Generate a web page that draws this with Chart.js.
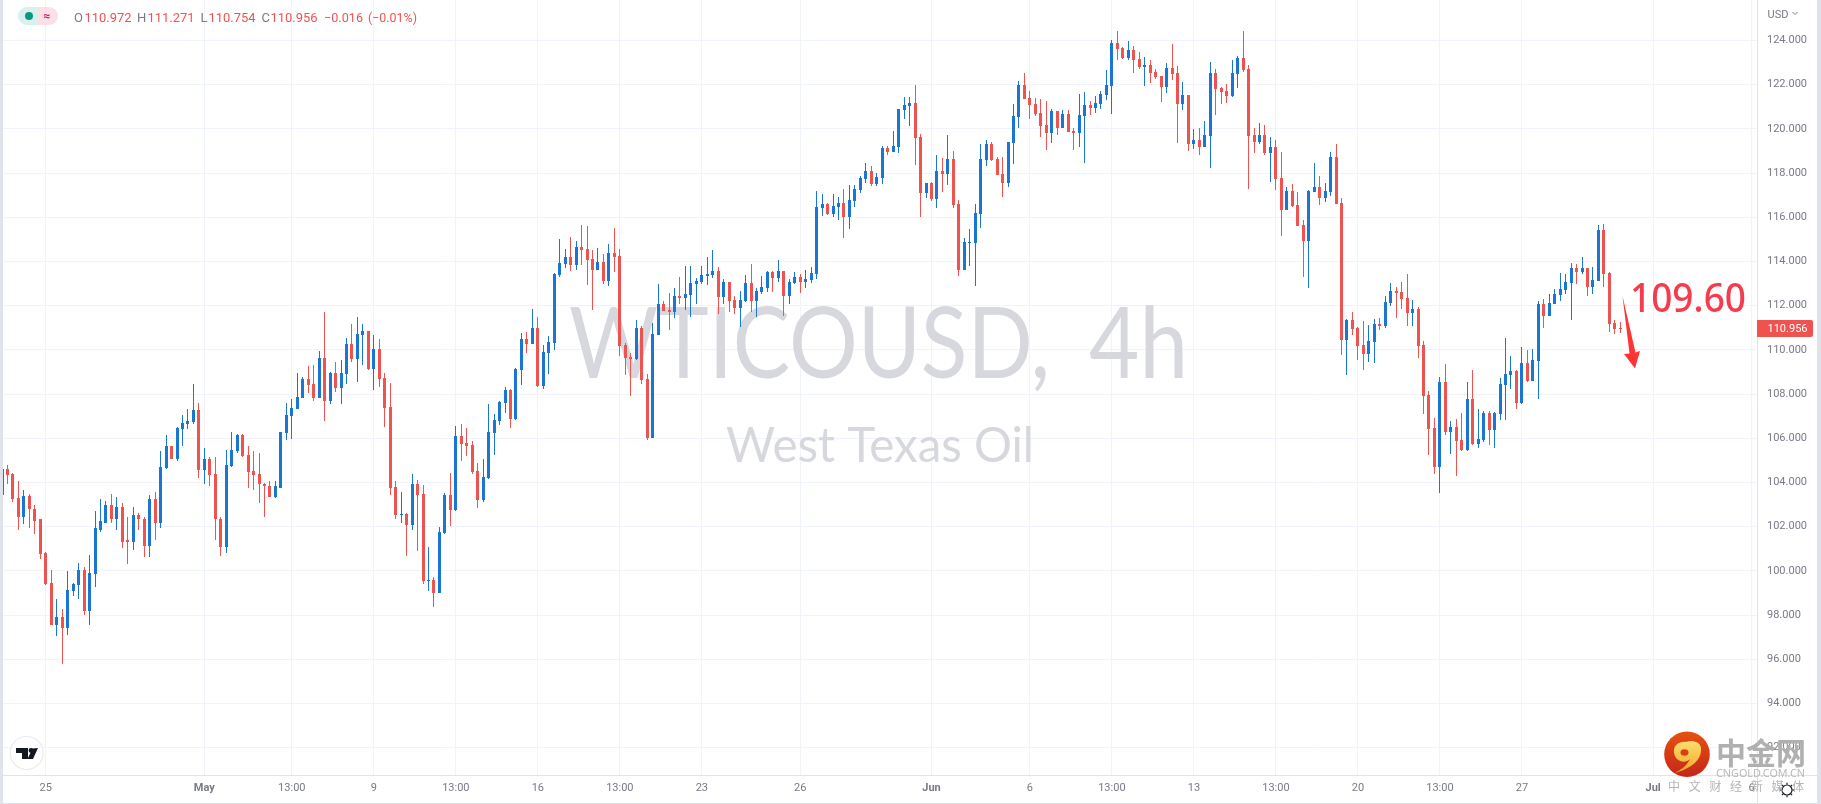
<!DOCTYPE html>
<html><head><meta charset="utf-8">
<script src="https://cdn.jsdelivr.net/npm/chart.js@4"></script>
<style>html,body{margin:0;padding:0;background:#fff;overflow:hidden}canvas{display:block}</style>
</head><body><canvas id="c" width="1821" height="804"></canvas>
<script>
const opens=[103.45,104.63,104.40,103.32,102.46,103.41,102.82,102.33,100.79,99.44,97.54,97.90,97.40,99.08,99.35,100.02,98.17,99.84,101.87,102.19,103.00,102.33,102.91,101.38,101.33,102.55,102.37,101.11,103.27,102.15,104.67,105.67,105.08,106.43,106.66,106.75,107.29,104.58,105.08,104.40,102.37,101.06,104.76,105.44,106.16,105.26,104.54,104.40,103.95,103.86,103.36,103.77,106.25,107.02,107.34,
107.82,108.67,108.45,107.82,109.62,107.68,108.94,108.27,108.90,110.25,109.58,110.66,110.84,109.12,110.03,108.72,107.41,103.80,102.53,102.58,102.08,103.93,103.48,99.55,99.60,99.01,101.72,103.44,102.76,106.10,105.78,105.69,104.52,103.21,104.20,106.24,106.78,107.59,108.18,106.87,109.08,110.48,110.25,110.98,108.36,109.85,
110.32,113.39,113.89,114.21,113.85,114.66,114.57,114.12,113.62,113.98,113.12,114.39,114.25,110.23,109.69,109.60,111.00,108.70,106.03,110.68,112.08,111.81,111.72,112.45,112.36,112.49,112.99,113.08,113.35,113.39,113.57,112.40,113.08,112.26,111.90,112.22,113.03,112.22,112.63,112.81,113.53,113.26,113.57,112.45,113.03,113.30,
113.08,113.17,113.44,116.42,116.60,116.15,116.46,116.64,116.01,116.73,117.23,117.73,118.09,117.50,117.77,119.13,118.95,119.17,120.84,121.02,121.16,119.62,117.10,117.55,116.82,118.09,117.95,118.63,116.60,113.62,114.84,114.84,116.15,118.58,119.31,118.63,117.95,117.55,119.35,120.53,121.97,121.38,121.11,120.71,120.17,119.80,120.80,120.03,120.66,119.89,119.80,120.57,121.07,120.93,121.11,121.52,
121.94,123.88,123.66,123.20,123.57,123.16,122.80,122.89,122.57,122.39,121.89,122.75,122.53,121.13,121.53,119.32,119.50,119.19,119.68,122.53,121.85,121.71,121.49,122.48,123.20,122.71,119.73,119.41,119.73,118.92,119.19,117.79,116.34,117.20,116.57,115.66,114.94,117.15,117.38,116.88,117.15,118.73,116.66,
110.45,111.35,110.99,110.22,109.82,110.36,111.17,111.08,112.12,112.66,112.62,112.34,111.67,111.85,110.22,107.96,106.47,104.71,108.55,106.29,106.52,105.93,105.48,107.78,105.75,105.93,107.15,106.38,107.11,108.42,108.87,109.05,107.60,109.41,108.60,109.50,112.07,111.53,112.07,112.48,112.71,113.02,113.70,
113.53,113.71,112.85,113.12,115.43,113.48,111.23,110.972];
const highs=[104.63,104.81,104.45,104.09,103.64,103.50,102.96,102.33,100.84,100.02,98.71,98.26,99.98,99.44,100.34,100.16,100.70,102.73,103.27,103.18,103.50,103.36,103.09,102.42,102.91,102.60,102.42,103.45,103.55,105.44,106.16,105.67,106.51,107.07,107.34,108.47,107.61,105.58,105.17,105.17,102.42,105.49,106.30,106.21,106.21,105.67,105.44,105.35,104.00,104.09,104.09,106.30,107.61,107.79,108.96,
108.76,109.26,109.31,109.94,111.70,108.99,109.44,109.53,110.52,111.16,111.47,111.16,110.84,110.66,110.48,108.94,108.49,104.07,103.57,102.62,104.38,104.11,103.89,101.09,99.73,101.99,103.53,104.43,106.55,106.64,106.46,105.87,104.88,105.06,107.54,107.09,107.68,108.31,108.22,109.17,110.75,110.80,111.83,111.47,110.21,110.61,
113.48,115.02,114.57,115.11,114.93,115.65,115.61,114.52,114.61,114.34,114.79,115.52,114.57,110.32,109.87,111.36,111.09,108.92,111.23,112.99,112.22,112.58,112.81,113.30,113.80,113.80,113.26,113.80,114.21,114.52,113.75,113.21,113.08,112.45,112.67,113.39,113.89,112.81,113.35,113.57,113.57,114.07,113.57,113.21,113.53,113.44,
113.62,113.75,117.19,117.05,116.64,117.05,116.91,117.28,117.46,117.46,117.86,118.45,118.31,118.00,119.22,119.22,119.89,120.89,121.43,121.43,121.97,119.76,117.55,117.59,118.81,118.68,119.71,118.99,116.78,115.06,115.47,116.60,119.31,119.49,119.40,118.72,118.72,119.40,121.11,122.15,122.51,121.70,121.38,121.34,121.25,120.89,120.80,120.84,120.84,120.03,121.56,121.66,121.25,121.47,121.70,122.65,
124.02,124.42,123.70,123.97,123.75,123.48,123.25,123.11,122.71,122.39,122.98,123.84,122.84,122.12,121.53,120.00,120.04,120.36,123.02,122.71,121.89,122.03,123.11,123.29,124.42,122.89,120.04,120.27,120.18,119.64,119.50,118.96,117.38,117.52,117.15,115.89,117.24,118.46,117.88,117.56,118.96,119.32,116.88,
111.40,111.71,111.03,111.31,111.13,111.40,111.44,112.43,113.02,112.84,113.07,113.43,112.25,111.94,110.40,108.15,106.93,108.78,109.36,106.79,106.88,107.15,108.55,109.09,107.33,107.24,107.24,107.20,108.73,110.54,109.73,109.09,110.13,110.00,110.04,112.21,112.30,112.52,112.75,113.47,113.43,113.92,113.88,
114.21,113.71,113.75,115.65,115.70,113.53,111.36,111.271];
const lows=[103.45,103.95,103.14,101.83,102.10,101.96,101.65,100.52,99.35,97.54,97.04,95.78,97.09,98.85,98.71,97.99,97.54,99.26,101.74,102.19,102.15,101.87,101.02,100.29,100.93,101.83,100.61,100.61,101.38,101.92,104.63,105.08,104.99,105.67,106.43,106.66,104.22,103.91,103.82,101.42,100.66,100.79,104.72,105.35,105.17,103.77,103.68,103.09,102.46,103.36,103.32,103.77,105.94,105.98,107.34,
107.82,108.04,107.68,107.82,106.78,107.54,108.09,107.54,108.45,109.44,108.54,109.31,109.08,108.18,108.31,106.51,103.44,102.35,102.17,100.68,101.86,100.91,99.42,99.10,98.38,99.01,101.67,102.04,102.71,104.97,105.20,104.38,102.85,103.12,104.16,105.24,106.60,107.14,106.46,106.82,108.40,109.85,110.25,108.31,108.22,108.90,
110.01,113.30,113.71,113.57,113.62,113.85,112.94,111.81,113.62,112.99,112.90,113.53,109.74,108.88,107.93,109.56,108.47,105.94,106.03,110.68,111.77,110.91,111.45,112.08,111.81,111.50,112.08,112.99,112.94,113.26,111.63,112.08,111.72,111.63,111.05,112.17,111.72,111.50,112.54,112.63,112.63,113.08,111.54,112.08,112.99,112.58,
112.81,113.03,113.21,116.06,116.10,116.01,115.88,115.06,115.47,116.46,117.10,117.55,117.41,117.41,117.50,118.81,118.95,118.90,120.44,120.12,118.36,116.01,116.87,116.73,116.42,117.14,117.46,116.42,113.35,113.62,113.80,112.90,115.51,118.31,118.54,117.91,116.91,117.37,118.40,120.03,121.34,120.44,120.57,119.62,119.04,119.35,119.71,120.03,119.85,119.04,119.17,118.45,120.62,120.71,120.89,121.29,
120.68,123.11,123.16,123.11,122.53,122.71,121.94,122.08,122.26,121.22,121.62,122.21,119.37,120.86,119.01,119.10,118.82,119.19,118.24,120.63,121.13,121.17,121.44,121.85,122.57,117.29,118.92,119.32,118.82,117.61,117.24,115.17,116.34,116.48,115.62,113.32,112.82,117.15,116.57,116.70,116.97,116.61,109.77,
108.87,110.67,109.54,109.09,109.45,109.41,110.90,110.99,111.98,111.44,111.85,111.08,111.08,109.64,107.11,105.26,104.40,103.54,106.16,105.30,104.31,105.44,105.44,105.71,105.57,105.84,105.71,105.57,106.84,106.84,108.24,107.33,107.56,108.55,108.60,107.78,110.99,111.53,112.07,112.21,112.52,111.35,112.98,
113.44,112.45,112.54,113.12,112.85,110.82,110.73,110.754];
const closes=[104.63,104.36,103.27,102.46,103.41,102.78,102.28,100.75,99.39,97.54,97.90,97.40,99.12,99.39,100.02,98.17,99.89,101.92,102.24,103.00,102.33,102.91,101.33,101.33,102.55,102.33,101.11,103.27,102.15,104.72,105.67,105.08,106.48,106.71,106.80,107.29,104.58,105.08,104.36,102.33,101.06,104.81,105.49,106.16,105.22,104.49,104.36,103.91,103.82,103.36,103.82,106.30,107.07,107.38,107.88,
108.67,108.40,107.82,109.62,107.68,108.94,108.27,108.94,110.25,109.58,110.70,110.84,109.12,110.03,108.67,107.36,103.75,102.53,102.58,102.08,103.93,103.44,99.55,99.60,99.01,101.77,103.44,102.76,106.10,105.74,105.65,104.47,103.21,104.25,106.28,106.82,107.63,108.18,106.87,109.12,110.48,110.25,110.98,108.36,109.89,110.34,
113.44,113.94,114.21,113.85,114.66,114.52,114.07,113.62,113.98,113.12,114.39,114.21,110.19,109.65,109.60,111.00,108.65,106.03,110.73,112.08,111.77,111.72,112.45,112.36,112.54,113.03,113.12,113.39,113.44,113.57,112.40,113.08,112.22,111.90,112.26,113.03,112.22,112.67,112.85,113.53,113.26,113.57,112.45,113.08,113.30,113.08,
113.21,113.48,116.46,116.60,116.15,116.51,116.64,116.01,116.78,117.28,117.77,118.09,117.50,117.82,119.13,118.95,119.22,120.89,121.07,121.16,119.58,117.10,117.55,116.82,118.09,117.95,118.63,116.55,113.62,114.88,114.88,116.19,118.63,119.31,118.58,117.91,117.55,119.40,120.57,121.97,121.34,121.07,120.66,120.12,119.80,120.80,120.03,120.66,119.85,119.80,120.62,121.07,120.93,121.16,121.56,121.97,
123.88,123.61,123.20,123.57,123.11,122.80,122.89,122.53,122.35,121.89,122.75,122.48,121.13,121.53,119.32,119.50,119.19,119.73,122.53,121.80,121.67,121.49,122.53,123.20,122.66,119.68,119.41,119.73,118.92,119.19,117.74,116.34,117.20,116.52,115.62,114.94,117.20,117.38,116.88,117.20,118.73,116.61,110.45,
111.35,110.94,110.18,109.82,110.40,111.17,111.08,112.16,112.66,112.57,112.30,111.67,111.85,110.18,107.92,106.43,104.71,108.55,106.29,106.52,105.89,105.48,107.78,105.75,105.98,107.15,106.38,107.15,108.46,108.91,109.05,107.60,109.41,108.60,109.54,112.07,111.53,112.12,112.52,112.75,113.07,113.70,113.52,
113.71,112.85,113.17,115.43,113.44,111.18,110.96,110.956];
const priceTicks=[92,94,96,98,100,102,104,106,108,110,112,114,116,118,120,122,124];
const timeTickIndex=[8,37,53,68,83,98,113,128,146,170,188,203,218,233,248,263,278,302,320];
const timeTickLabels=['25','May','13:00','9','13:00','16','13:00','23','26','Jun','6','13:00','13','13:00','20','13:00','27','Jul','6'];
const monthLabels=['May','Jun','Jul'];
const lastPrice=110.956;
const legendParts=[['O','110.972'],['H','111.271'],['L','110.754'],['C','110.956']];
const UP='#1976d2',DOWN='#ef5350',GRID='#f0f3fa',AXIS='#e0e3eb',LABEL='#787b86';
const FONT='Roboto, sans-serif';
const colors=opens.map((o,i)=>closes[i]>=o?UP:DOWN);

const frameFit={id:'frameFit',afterLayout(chart){
  const a=chart.chartArea,x=chart.scales.x,y=chart.scales.y;
  a.left=3;a.right=1757;a.top=0;a.bottom=775;a.width=1754;a.height=775;
  y.top=0;y.bottom=775;y.height=775;y.paddingTop=0;y.paddingBottom=0;y.configure();
  x.top=775;x.bottom=803;x.height=28;x.left=3;x.right=1757;x.width=1754;x.paddingLeft=0;x.paddingRight=0;x.configure();
}};
const snap={id:'snap',afterDatasetsUpdate(chart){
  chart.data.datasets.forEach((d,di)=>{
    chart.getDatasetMeta(di).data.forEach(el=>{
      el.x=Math.floor(el.x)+0.5;
      const a=Math.round(el.y),b=Math.round(el.base);
      el.y=Math.min(a,b);el.base=Math.max(b,a);
      if(el.base-el.y<1)el.base=el.y+1;
    });
  });
}};
const underlay={id:'underlay',beforeDatasetsDraw(chart){
  const c=chart.ctx;c.save();
  c.fillStyle='#d6d8dd';c.textAlign='left';c.textBaseline='alphabetic';
  c.font='98px Lato, sans-serif';c.fillText('WTICOUSD,',569,378,481);c.fillText('4h',1089,378,99);
  c.textAlign='center';c.font='48px Lato, sans-serif';c.fillText('West Texas Oil',880,462,308);
  c.restore();
}};
const overlay={id:'overlay',afterDraw(chart){
  const c=chart.ctx,y=chart.scales.y;c.save();
  // frame
  c.fillStyle=AXIS;c.fillRect(0,0,3,804);c.fillRect(1817,0,4,804);c.fillRect(0,803,1821,1);
  c.strokeStyle=AXIS;c.lineWidth=1;c.beginPath();
  c.moveTo(3,775.5);c.lineTo(1817,775.5);c.moveTo(1757.5,0);c.lineTo(1757.5,803);c.stroke();
  // legend pill
  c.fillStyle='#d8f1ec';c.beginPath();c.roundRect(18,7,20,18,[9,0,0,9]);c.fill();
  c.fillStyle='#fce0e8';c.beginPath();c.roundRect(38,7,20,18,[0,9,9,0]);c.fill();
  c.fillStyle='#089981';c.beginPath();c.arc(29,16,4,0,7);c.fill();
  c.fillStyle='#cc1a6b';c.font='bold 12px '+FONT;c.textAlign='center';c.textBaseline='alphabetic';c.fillText('≈',47,20);
  // legend values
  c.textAlign='left';c.font='13px '+FONT;
  const lx=[74,137,200.5,261.5],vx=[84.5,147.5,208.5,270.5];
  legendParts.forEach((p,i)=>{c.fillStyle=LABEL;c.fillText(p[0],lx[i],22);c.fillStyle=DOWN;c.fillText(p[1],vx[i],22,47);});
  c.fillText('−0.016',324,22,39);c.fillText('(−0.01%)',368,22,49);
  // currency
  c.fillStyle=LABEL;c.font='11px '+FONT;c.fillText('USD',1767.5,17.5);
  c.strokeStyle=LABEL;c.beginPath();c.moveTo(1792.5,12);c.lineTo(1795,14.5);c.lineTo(1797.5,12);c.stroke();
  // last price tag
  const py=Math.round(y.getPixelForValue(lastPrice));
  c.fillStyle=DOWN;c.beginPath();c.roundRect(1757,py-9,56,17,[0,2,2,0]);c.fill();
  c.fillStyle='#fff';c.textAlign='left';c.textBaseline='middle';c.fillText(lastPrice.toFixed(3),1767.5,py);
  // annotation
  c.textBaseline='alphabetic';c.fillStyle='#f53b4e';c.font='500 40px "Noto Sans", sans-serif';c.fillText('109.60',1630,312,116);
  c.fillStyle='#ff3535';c.beginPath();
  c.moveTo(1622.5,296);c.lineTo(1635.5,352.5);c.lineTo(1640,351);c.lineTo(1635,368.5);c.lineTo(1624,354);c.lineTo(1629.5,353.5);c.closePath();c.fill();
  // TV badge
  c.fillStyle='#fff';c.strokeStyle='#e9eaef';c.lineWidth=1.2;c.beginPath();c.arc(26.7,753,16.5,0,7);c.fill();c.stroke();
  c.fillStyle='#131722';c.beginPath();
  c.moveTo(16,748);c.lineTo(28,748);c.lineTo(28,759);c.lineTo(22,759);c.lineTo(22,753);c.lineTo(16,753);c.closePath();c.fill();
  c.beginPath();c.arc(31,750.5,2.4,0,7);c.fill();
  c.beginPath();c.moveTo(38,748);c.lineTo(33,759);c.lineTo(27.5,759);c.lineTo(32.5,748.5);c.closePath();c.fill();
  // gear
  c.strokeStyle='#131722';c.lineWidth=1.2;c.beginPath();c.arc(1787,790,5,0,7);c.stroke();
  for(let a=0;a<8;a++){const t=a*Math.PI/4;c.beginPath();c.moveTo(1787+5.5*Math.cos(t),790+5.5*Math.sin(t));c.lineTo(1787+7.2*Math.cos(t),790+7.2*Math.sin(t));c.stroke();}
  // publisher mark
  const g=c.createLinearGradient(1687,732,1687,777);g.addColorStop(0,'#e8500f');g.addColorStop(1,'#c4261a');
  c.fillStyle=g;c.beginPath();c.arc(1687,754.3,22.8,0,7);c.fill();
  const g2=c.createLinearGradient(1687,742,1687,773);g2.addColorStop(0,'#fbdc6e');g2.addColorStop(1,'#f5a623');
  c.fillStyle=g2;c.beginPath();
  c.moveTo(1675,773);c.bezierCurveTo(1688,769,1702,762,1701,748);c.bezierCurveTo(1700,741,1691,740,1686,742);
  c.bezierCurveTo(1680,741,1673,745,1674,752);c.bezierCurveTo(1674,760,1684,765,1690,759);
  c.bezierCurveTo(1686,767,1680,770,1675,773);c.closePath();c.fill();
  c.fillStyle='#d8401a';c.beginPath();c.ellipse(1684.5,752.5,4,3.2,0,0,7);c.fill();
  c.fillStyle='#b0b0b0';c.textAlign='left';c.font='bold 30px "Noto Sans CJK SC", sans-serif';c.fillText('中金网',1716,764,91);
  c.font='11px "Noto Sans", sans-serif';c.fillStyle='#b9b9b9';c.fillText('CNGOLD.COM.CN',1716,777,89);
  c.font='12px "Noto Sans CJK SC", sans-serif';c.fillStyle='#b4b4b4';
  ['中','文','财','经','新','媒','体'].forEach((t,i)=>c.fillText(t,1668+i*20.7,791));
  c.restore();
}};

new Chart(document.getElementById('c'),{
  type:'bar',
  data:{datasets:[
    {label:'wick',grouped:false,barPercentage:1,maxBarThickness:1,backgroundColor:colors,borderWidth:0,order:2,
     data:highs.map((h,i)=>({x:i,y:[lows[i],h]}))},
    {label:'body',grouped:false,barPercentage:1,maxBarThickness:3,backgroundColor:colors,borderWidth:0,order:1,
     data:opens.map((o,i)=>({x:i,y:[Math.min(o,closes[i]),Math.max(o,closes[i])]}))}
  ]},
  options:{
    responsive:false,animation:false,devicePixelRatio:1,
    layout:{autoPadding:false,padding:{left:3,right:4,top:0,bottom:1}},
    plugins:{legend:{display:false},tooltip:{enabled:false},title:{display:false}},
    events:[],
    scales:{
      x:{type:'linear',position:'bottom',offset:false,min:0.171,max:321.0,
        afterBuildTicks(s){s.ticks=timeTickIndex.map(v=>({value:v}));},
        afterFit(s){s.height=28;},
        grid:{offset:false,color:GRID,lineWidth:1,drawTicks:false,tickLength:0},border:{display:false},
        ticks:{autoSkip:false,maxRotation:0,minRotation:0,padding:7,color:LABEL,
          font:ctx=>({family:FONT,size:11,weight:ctx.tick&&monthLabels.includes(ctx.tick.label)?'bold':'normal'}),
          callback:v=>timeTickLabels[timeTickIndex.indexOf(v)]}},
      y:{type:'linear',position:'right',min:90.765,max:125.833,
        afterBuildTicks(s){s.ticks=priceTicks.map(v=>({value:v}));},
        afterFit(s){s.width=60;},
        grid:{color:GRID,lineWidth:1,drawTicks:false,tickLength:0},border:{display:false},
        ticks:{padding:10,color:LABEL,font:{family:FONT,size:11},callback:v=>v.toFixed(3)}}
    }
  },
  plugins:[frameFit,snap,underlay,overlay]
});
</script></body></html>
